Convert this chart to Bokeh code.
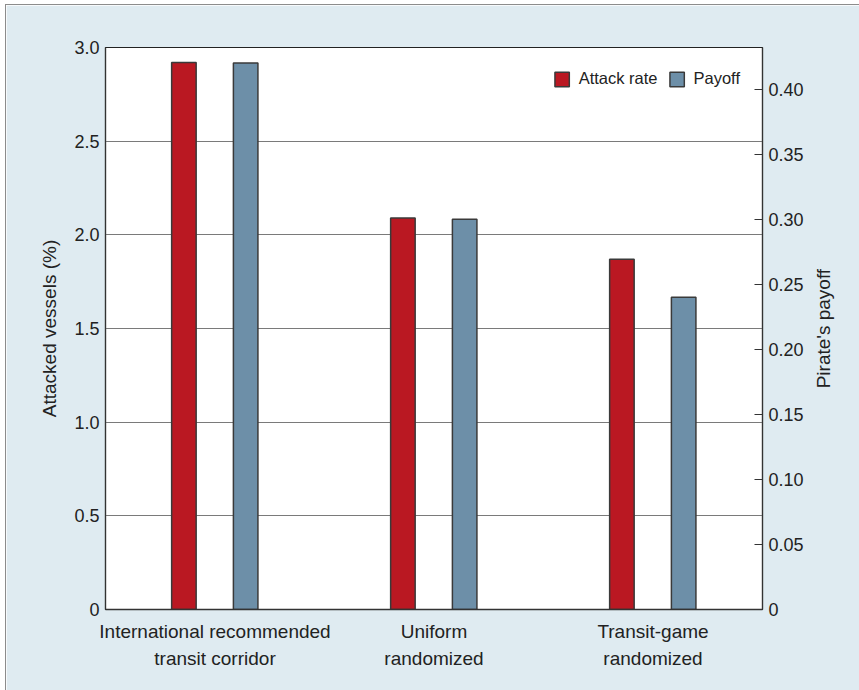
import math
from bokeh.plotting import figure
from bokeh.models import Range1d, LinearAxis, FactorRange, ColumnDataSource, FixedTicker, Legend, LegendItem
from bokeh.transform import dodge
from bokeh.embed import file_html
from bokeh.resources import INLINE

categories = ["International recommended\ntransit corridor", "Uniform\nrandomized", "Transit-game\nrandomized"]
attack_rate = [2.92, 2.09, 1.87]
payoff = [0.42, 0.30, 0.24]
left_ticks = [0, 0.5, 1.0, 1.5, 2.0, 2.5, 3.0]
left_labels = ["0", "0.5", "1.0", "1.5", "2.0", "2.5", "3.0"]
right_ticks = [0, 0.05, 0.10, 0.15, 0.20, 0.25, 0.30, 0.35, 0.40]
right_labels = ["0", "0.05", "0.10", "0.15", "0.20", "0.25", "0.30", "0.35", "0.40"]
right_title = "Pirate's payoff"

FONT = "Liberation Sans"
BG = "#dfebf1"
RED = "#ba1822"
BLUE = "#6d8fa8"
PAY_MAX = 0.432
TITLE_START = 0.17  # where the rotated right title begins (pay units)

src = ColumnDataSource(dict(cat=categories, attack=attack_rate, payoff=payoff))

p = figure(width=854, height=686, x_range=FactorRange(*categories, range_padding=0),
           y_range=Range1d(0, 3.0), output_backend="svg", toolbar_location=None,
           min_border_left=99, min_border_right=98, min_border_top=42, min_border_bottom=82)
p.margin = (4, 0, 0, 5)
p.styles = {"border-top": "1px solid #8c8c8c", "border-left": "1px solid #8c8c8c"}
p.border_fill_color = BG
p.background_fill_color = "white"
p.outline_line_color = "#222222"
p.outline_line_width = 1.2

p.extra_y_ranges = {"pay": Range1d(0, PAY_MAX)}

r1 = p.vbar(x=dodge("cat", -0.142, range=p.x_range), top="attack", width=0.112, source=src,
            fill_color=RED, line_color="#3a3a3a", line_width=1.5)
r2 = p.vbar(x=dodge("cat", 0.14, range=p.x_range), top="payoff", width=0.112, source=src,
            y_range_name="pay", fill_color=BLUE, line_color="#3a3a3a", line_width=1.5)

# left axis
ya = p.yaxis[0]
ya.ticker = FixedTicker(ticks=left_ticks)
ya.major_label_overrides = {t: l for t, l in zip(left_ticks, left_labels)}
ya.major_tick_in = 0
ya.major_tick_out = 0
ya.minor_tick_in = 0
ya.minor_tick_out = 0
ya.axis_label = "Attacked vessels (%)"
ya.axis_line_color = "#333333"
ya.axis_line_width = 1.2

# right axis
ra = LinearAxis(y_range_name="pay", ticker=FixedTicker(ticks=right_ticks))
ra.major_label_overrides = {t: l for t, l in zip(right_ticks, right_labels)}
ra.major_tick_in = 8
ra.major_tick_out = 0
ra.minor_tick_in = 0
ra.minor_tick_out = 0
ra.axis_line_color = "#333333"
ra.axis_line_width = 1.2
ra.major_tick_line_color = "#333333"
p.add_layout(ra, "right")

# right title drawn as the single rotated label of a bare axis
rt = LinearAxis(y_range_name="pay", ticker=FixedTicker(ticks=[TITLE_START]))
rt.major_label_overrides = {TITLE_START: right_title}
rt.major_label_orientation = math.pi / 2
rt.major_label_standoff = 17
rt.axis_line_color = None
rt.major_tick_line_color = None
rt.minor_tick_line_color = None
rt.major_tick_in = 0
rt.major_tick_out = 0
p.add_layout(rt, "right")

xa = p.xaxis[0]
xa.major_tick_in = 0
xa.major_tick_out = 0
xa.axis_line_color = "#333333"
xa.axis_line_width = 1.5
xa.major_label_standoff = 11
xa.major_label_text_font_size = "19px"
xa.major_label_text_line_height = 1.3

for ax in (ya, ra, xa, rt):
    ax.major_label_text_font = FONT
    ax.major_label_text_color = "#222222"
    ax.axis_label_text_font = FONT
    ax.axis_label_text_font_style = "normal"
    ax.axis_label_text_color = "#222222"
    ax.axis_label_text_font_size = "19px"
for ax in (ya, ra):
    ax.major_label_text_font_size = "18px"
    ax.major_label_standoff = 6
rt.major_label_text_font_size = "19px"
ya.axis_label_standoff = 11

p.xgrid.grid_line_color = None
p.ygrid.ticker = FixedTicker(ticks=left_ticks)
p.ygrid.grid_line_color = "#7a7a7a"
p.ygrid.grid_line_width = 1.2

legend = Legend(items=[LegendItem(label="Attack rate", renderers=[r1]),
                       LegendItem(label="Payoff", renderers=[r2])],
                location="top_right", orientation="horizontal")
legend.glyph_width = 18
legend.glyph_height = 18
legend.label_text_font = FONT
legend.label_text_font_size = "16.5px"
legend.label_text_color = "#222222"
legend.background_fill_alpha = 0
legend.border_line_alpha = 0
legend.margin = 14
legend.padding = 8
legend.spacing = 10
legend.label_standoff = 8
p.add_layout(legend)

open("out.html", "w").write(file_html(p, INLINE))
